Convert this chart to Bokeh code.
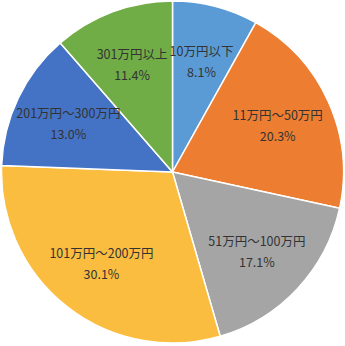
import math
from bokeh.plotting import figure
from bokeh.models import ColumnDataSource
from bokeh.core.properties import value
from bokeh.embed import file_html
from bokeh.resources import INLINE

categories = ["10万円以下", "11万円～50万円", "51万円～100万円", "101万円～200万円", "201万円～300万円", "301万円以上"]
values = [8.1, 20.3, 17.1, 30.1, 13.0, 11.4]
colors = ["#5B9BD5", "#ED7D31", "#A5A5A5", "#FBBD40", "#4472C4", "#70AD47"]

R = 171
label_r = 0.675 * R
total = sum(values)
starts, ends, lx, ly, pct = [], [], [], [], []
cum = 0.0
for v in values:
    a0 = math.pi / 2 - 2 * math.pi * cum / total
    cum += v
    a1 = math.pi / 2 - 2 * math.pi * cum / total
    starts.append(a0)
    ends.append(a1)
    mid = (a0 + a1) / 2
    lx.append(label_r * math.cos(mid))
    ly.append(label_r * math.sin(mid))
    pct.append(f"{v:.1f}%")

src = ColumnDataSource(dict(start=starts, end=ends, color=colors, x=lx, y=ly, cat=categories, pct=pct))

p = figure(width=345, height=346, x_range=(-172, 173), y_range=(-174.5, 171.5),
           output_backend="svg", toolbar_location=None, min_border=0)
p.axis.visible = False
p.grid.visible = False
p.outline_line_color = None
p.background_fill_color = "white"

p.wedge(x=0, y=0, radius=R, start_angle="start", end_angle="end", direction="clock",
        fill_color="color", line_color="white", line_width=1.5, source=src)

font = value("Noto Sans CJK JP")
p.text(x="x", y="y", text="cat", source=src, text_font=font, text_font_size="12.5px",
       text_color="#333333", text_align="center", text_baseline="middle", y_offset=-10)
p.text(x="x", y="y", text="pct", source=src, text_font=font, text_font_size="12.5px",
       text_color="#333333", text_align="center", text_baseline="middle", y_offset=11)

open("out.html", "w").write(file_html(p, INLINE))
